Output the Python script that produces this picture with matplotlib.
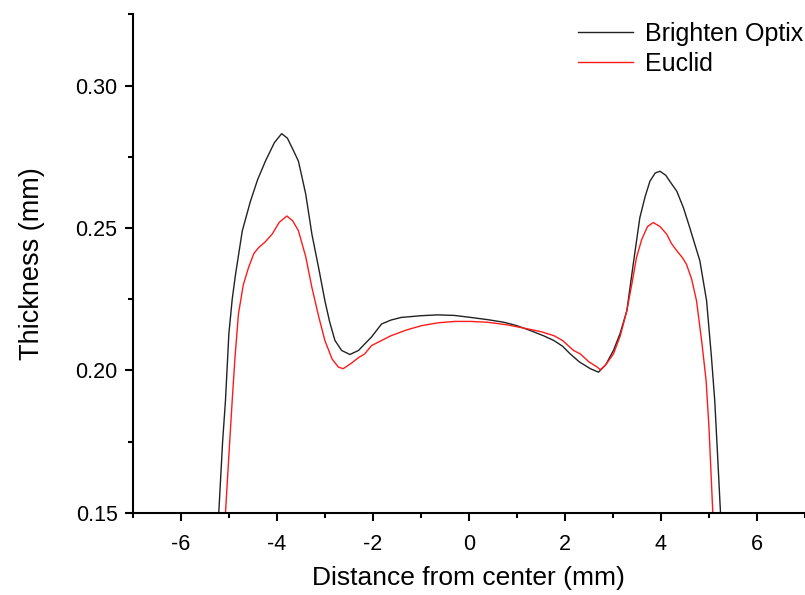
import numpy as np
import matplotlib
matplotlib.use("Agg")
import matplotlib.pyplot as plt
from matplotlib.ticker import MultipleLocator, FormatStrFormatter

plt.rcParams['font.family'] = ['Liberation Sans', 'DejaVu Sans']
plt.rcParams['axes.unicode_minus'] = False

# Brighten Optix profile
bo_x = [-5.21, -5.13, -5.07, -5.00, -4.93, -4.86, -4.72, -4.55, -4.40, -4.24,
        -4.05, -3.90, -3.78, -3.65, -3.55, -3.40, -3.27, -3.13, -3.00, -2.90,
        -2.79, -2.65, -2.48, -2.30, -2.17, -2.03, -1.82, -1.62, -1.41, -1.00,
        -0.65, -0.30, 0.04, 0.40, 0.73, 1.00, 1.28, 1.55, 1.77, 1.95,
        2.11, 2.30, 2.53, 2.70, 2.85, 3.01, 3.15, 3.29, 3.42, 3.56,
        3.67, 3.77, 3.88, 3.98, 4.10, 4.20, 4.33, 4.47, 4.60, 4.71,
        4.81, 4.95, 5.05, 5.12, 5.18, 5.24]
bo_y = [0.150, 0.175, 0.1895, 0.2128, 0.2250, 0.2338, 0.2490, 0.2594, 0.2670, 0.2734,
        0.2800, 0.2831, 0.2815, 0.2770, 0.2734, 0.2620, 0.2478, 0.2360, 0.2245, 0.2170,
        0.2105, 0.2070, 0.2056, 0.2070, 0.2093, 0.2117, 0.2163, 0.2177, 0.2186, 0.2192,
        0.2195, 0.2193, 0.2186, 0.2178, 0.2169, 0.2157, 0.2140, 0.2122, 0.2105, 0.2085,
        0.2058, 0.2030, 0.2006, 0.1994, 0.2020, 0.2070, 0.2130, 0.2210, 0.2370, 0.2536,
        0.2610, 0.2664, 0.2693, 0.2699, 0.2685, 0.2660, 0.2629, 0.2570, 0.2501, 0.2440,
        0.2385, 0.2245, 0.2050, 0.1895, 0.170, 0.150]

# Euclid profile
eu_x = [-5.07, -5.00, -4.93, -4.87, -4.80, -4.70, -4.59, -4.48, -4.38, -4.25,
        -4.10, -3.95, -3.79, -3.67, -3.55, -3.40, -3.27, -3.13, -3.00, -2.85,
        -2.72, -2.62, -2.45, -2.30, -2.17, -2.03, -1.82, -1.62, -1.30, -0.99,
        -0.65, -0.30, 0.05, 0.39, 0.80, 1.22, 1.50, 1.77, 1.95, 2.18,
        2.32, 2.50, 2.67, 2.74, 2.85, 3.01, 3.15, 3.29, 3.39, 3.49,
        3.60, 3.72, 3.84, 3.98, 4.12, 4.22, 4.33, 4.45, 4.53, 4.64,
        4.74, 4.85, 4.94, 5.00, 5.08]
eu_y = [0.150, 0.170, 0.1895, 0.2050, 0.2198, 0.2300, 0.2361, 0.2410, 0.2431, 0.2450,
        0.2478, 0.2520, 0.2542, 0.2525, 0.2490, 0.2400, 0.2291, 0.2190, 0.2105, 0.2040,
        0.2012, 0.2006, 0.2025, 0.2045, 0.2058, 0.2087, 0.2105, 0.2122, 0.2142, 0.2157,
        0.2167, 0.2172, 0.2172, 0.2169, 0.2160, 0.2146, 0.2136, 0.2122, 0.2105, 0.2070,
        0.2058, 0.2030, 0.2012, 0.2002, 0.2020, 0.2058, 0.2120, 0.2210, 0.2300, 0.2396,
        0.2460, 0.2505, 0.2519, 0.2505, 0.2478, 0.2445, 0.2420, 0.2395, 0.2373, 0.2320,
        0.2245, 0.2100, 0.1965, 0.1800, 0.150]

fig = plt.figure(figsize=(8.05, 5.95), dpi=100)
ax = fig.add_axes([0.165, 0.138, 0.835, 0.838])

ax.plot(bo_x, bo_y, color='#222222', lw=1.0, label='Brighten Optix')
ax.plot(eu_x, eu_y, color='#ff1a1a', lw=1.0, label='Euclid')

ax.set_xlim(-7, 7)
ax.set_ylim(0.15, 0.325)
ax.xaxis.set_major_locator(MultipleLocator(2))
ax.xaxis.set_minor_locator(MultipleLocator(1))
ax.yaxis.set_major_locator(MultipleLocator(0.05))
ax.yaxis.set_minor_locator(MultipleLocator(0.025))
ax.yaxis.set_major_formatter(FormatStrFormatter('%.2f'))

for s in ['top', 'right']:
    ax.spines[s].set_visible(False)
for s in ['left', 'bottom']:
    ax.spines[s].set_linewidth(1.5)

ax.tick_params(which='major', direction='out', length=6, width=1.5, labelsize=15.5)
ax.tick_params(which='minor', direction='out', length=3.5, width=1.5)
ax.tick_params(axis='x', which='major', pad=9)
ax.tick_params(axis='y', which='major', pad=5)

ax.set_xlabel('Distance from center (mm)', fontsize=19, labelpad=8)
ax.set_ylabel('Thickness (mm)', fontsize=19.5, labelpad=22)

leg = fig.legend(loc='upper left', bbox_to_anchor=(0.705, 0.98), frameon=False,
                 fontsize=18, handlelength=2.2, handletextpad=0.5, labelspacing=0.25,
                 borderaxespad=0)

fig.savefig('out.png', dpi=100)
